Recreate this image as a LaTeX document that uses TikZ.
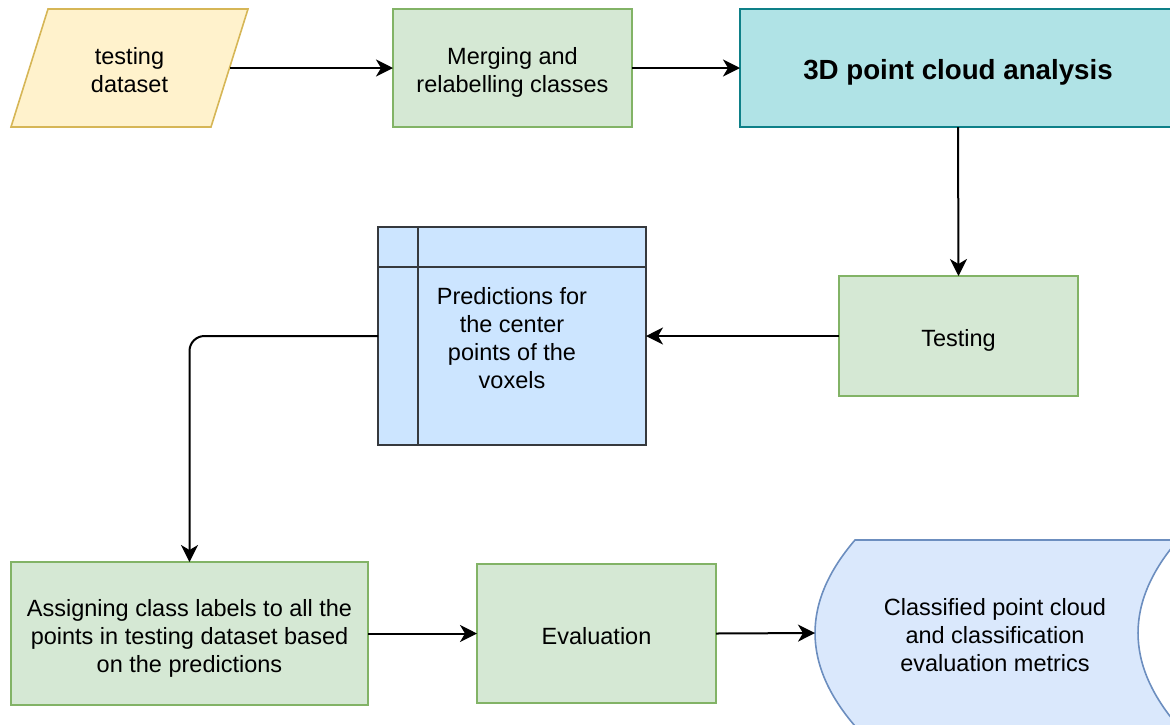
\documentclass[tikz,border=0pt]{standalone}
\usepackage{fontspec}
\setmainfont{Liberation Sans}
\usetikzlibrary{arrows.meta,calc}
\definecolor{yfill}{HTML}{FFF2CC}
\definecolor{yline}{HTML}{D6B656}
\definecolor{gfill}{HTML}{D5E8D4}
\definecolor{gline}{HTML}{82B366}
\definecolor{tfill}{HTML}{B0E3E6}
\definecolor{tline}{HTML}{0E8088}
\definecolor{pfill}{HTML}{CCE5FF}
\definecolor{pline}{HTML}{36393D}
\definecolor{bfill}{HTML}{DAE8FC}
\definecolor{bline}{HTML}{6C8EBF}
% centred multi-line label, nudged down a little inside its box
\newcommand\boxtext[2][-5pt]{\raisebox{#1}[\height][\depth]{\begin{tabular}{@{}c@{}}#2\end{tabular}}}
\begin{document}
\begin{tikzpicture}[x=1pt,y=-1pt,
  box/.style={draw, line width=1.6pt, inner sep=0pt, outer sep=0pt, align=center,
    font=\fontsize{23.5}{28}\selectfont},
  greenbox/.style={box, fill=gfill, draw=gline},
  plain/.style={inner sep=0pt, align=center, font=\fontsize{23.5}{28}\selectfont},
  flow/.style={line width=2pt, -{Stealth[length=17pt,width=17pt,inset=5pt]}}]
\clip (0,0) rectangle (1170,724);

% input data (parallelogram)
\draw[line width=1.6pt, draw=yline, fill=yfill]
  (48,9) -- (248,9) -- (211,127) -- (11,127) -- cycle;
\node[plain] (data) at (129.5,68) {\boxtext{testing\\dataset}};
\coordinate (dataOut) at (229.5,68);

% processing steps
\node[greenbox, minimum width=239pt, minimum height=118pt] (merge) at (512.5,68)
  {\boxtext{Merging and\\relabelling classes}};
\node[box, fill=tfill, draw=tline, minimum width=436pt, minimum height=118pt,
  font=\bfseries\fontsize{27.7}{33}\selectfont] (analysis) at (958,68)
  {\boxtext{3D point cloud analysis}};
\node[greenbox, minimum width=239pt, minimum height=120pt] (testing) at (958.5,336)
  {\boxtext{Testing}};

% internal storage with predictions
\node[box, fill=pfill, draw=pline, minimum width=268pt, minimum height=218pt] (pred) at (512,336)
  {\boxtext{Predictions for\\the center\\points of the\\voxels}};
\draw[line width=1.6pt, draw=pline] ($(pred.north west)+(40,0)$) -- ($(pred.south west)+(40,0)$);
\draw[line width=1.6pt, draw=pline] ($(pred.north west)+(0,40)$) -- ($(pred.north east)+(0,40)$);

\node[greenbox, minimum width=357pt, minimum height=143pt] (assign) at (189.5,633.5)
  {\boxtext{Assigning class labels to all the\\points in testing dataset based\\on the predictions}};
\node[greenbox, minimum width=239pt, minimum height=139pt] (eval) at (596.5,633.5)
  {\boxtext{Evaluation}};

% stored output data
\draw[line width=1.6pt, draw=bline, fill=bfill]
  (855,540) -- (1178,540)
  .. controls (1124.7,602) and (1124.7,664) .. (1178,726)
  -- (855,726)
  .. controls (801.7,664) and (801.7,602) .. cycle;
\coordinate (resultIn) at (815,633);
\node[plain] (result) at (995,633)
  {\boxtext{Classified point cloud\\and classification\\evaluation metrics}};

% connectors
\draw[flow] (dataOut) -- (merge.west);
\draw[flow] (merge.east) -- (analysis.west);
\draw[flow] (analysis.south) -- (testing.north);
\draw[flow] (testing.west) -- (pred.east);
\draw[flow, rounded corners=15pt] (pred.west) -| (assign.north);
\draw[flow] (assign.east) -- (eval.west);
\draw[flow] (eval.east) -- (resultIn);
\end{tikzpicture}
\end{document}
